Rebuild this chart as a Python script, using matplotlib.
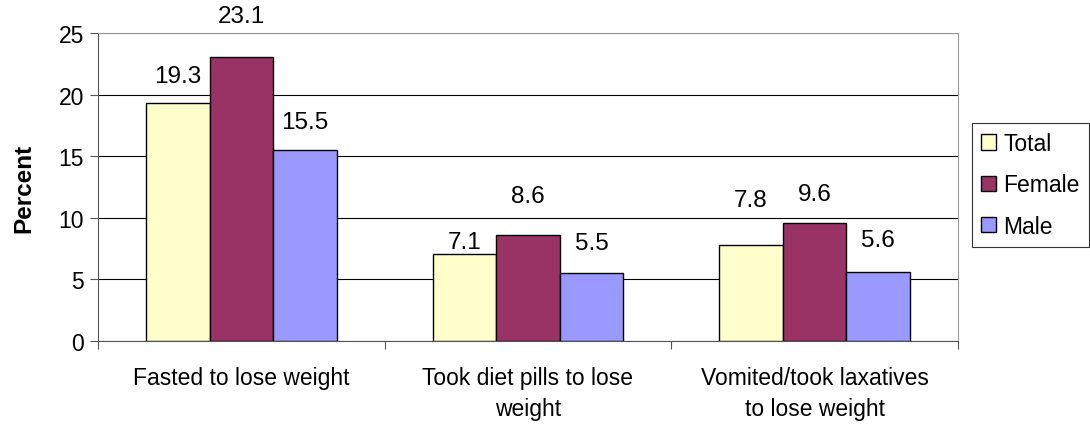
import numpy as np
import matplotlib
matplotlib.use("Agg")
import matplotlib.pyplot as plt
from matplotlib.patches import Patch

plt.rcParams['font.family'] = ['Liberation Sans', 'DejaVu Sans']

categories = ["Fasted to lose weight", "Took diet pills to lose\nweight",
              "Vomited/took laxatives\nto lose weight"]
series = ["Total", "Female", "Male"]
total = [19.3, 7.1, 7.8]
female = [23.1, 8.6, 9.6]
male = [15.5, 5.5, 5.6]
colors = ["#FFFFCC", "#993366", "#9999FF"]

# label lift above each bar (data units), staggered like the original
lifts = [[2.2, 0.95, 3.65], [3.3, 3.15, 2.35], [2.3, 2.45, 2.6]]

fig = plt.figure(figsize=(10.9, 4.27), dpi=100)
ax = fig.add_axes([0.0899, 0.199, 0.789, 0.721])

x = np.arange(len(categories))
w = 0.222
for i, (vals, c) in enumerate(zip([total, female, male], colors)):
    bars = ax.bar(x + (i - 1) * w, vals, w, color=c, edgecolor='black', linewidth=1.0, zorder=3)
    for b, v, d in zip(bars, vals, lifts[i]):
        ax.text(b.get_x() + b.get_width() / 2, v + d, f"{v}", ha='center', va='center',
                fontsize=17.5, clip_on=False)

ax.set_xlim(-0.5, 2.5)
ax.set_ylim(0, 25)
ax.set_yticks([0, 5, 10, 15, 20, 25])
ax.yaxis.grid(True, color='black', linewidth=0.8, zorder=0)
ax.set_xticks([-0.5, 0.5, 1.5, 2.5], minor=False)
ax.set_xticklabels([])
ax.set_xticks(x, minor=True)
ax.set_xticklabels(categories, minor=True, fontsize=16.5, linespacing=1.45)
ax.tick_params(axis='x', which='minor', length=0, pad=18)
ax.tick_params(axis='x', which='major', length=6, direction='out', color='#555555')
ax.tick_params(axis='y', length=6, pad=4, direction='out', labelsize=16.5, color='#555555')
ax.set_ylabel("Percent", fontsize=17.5, fontweight='bold', labelpad=17)
for s in ['top', 'right']:
    ax.spines[s].set_color('#999999')
for s in ['left', 'bottom']:
    ax.spines[s].set_color('#555555')

handles = [Patch(facecolor=c, edgecolor='black', label=s) for c, s in zip(colors, series)]
leg = fig.legend(handles=handles, loc='upper left', bbox_to_anchor=(0.892, 0.71),
                 fontsize=16.5, frameon=True, fancybox=False, edgecolor='black',
                 handlelength=0.65, handleheight=0.65, handletextpad=0.3,
                 labelspacing=0.8, borderpad=0.4, borderaxespad=0)
leg.get_frame().set_linewidth(0.8)

fig.savefig("out.png", dpi=100)
